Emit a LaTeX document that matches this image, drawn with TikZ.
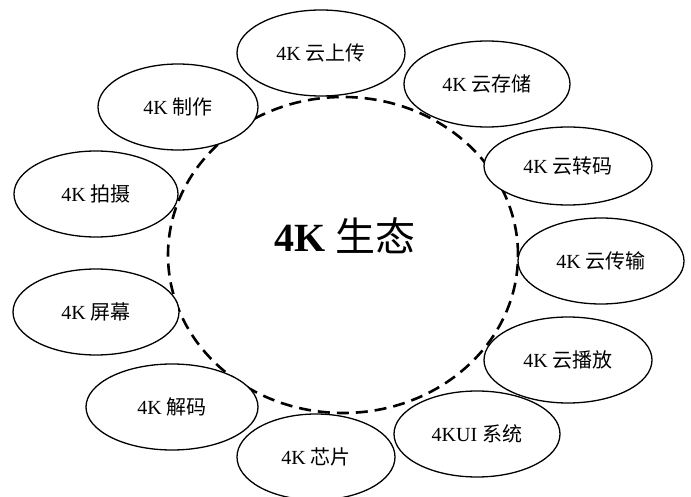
\documentclass[tikz,border=0pt]{standalone}
\usepackage{fontspec}
\setmainfont{Liberation Serif}
\newfontfamily\cjk{Noto Sans CJK SC}
\usetikzlibrary{shapes.geometric}
\begin{document}
\begin{tikzpicture}[x=1pt,y=-1pt,
  item/.style={ellipse, draw=black, line width=1.3pt, fill=white, inner sep=0pt,
    font=\fontsize{20}{24}\selectfont},
  ring/.style={ellipse, draw=black, line width=2.6pt, dash pattern=on 12pt off 7pt,
    inner sep=0pt, minimum width=350pt, minimum height=316pt}]
\useasboundingbox (0,0) rectangle (691,497);
\fill[white] (0,0) rectangle (691,497);
\node[ring] (eco) at (343,255) {};
\node[font=\fontsize{40}{48}\selectfont] (title) at (345,236) {\textbf{4K} {\cjk 生态}};
\node[item, minimum width=168pt, minimum height=86pt] (upload) at (321,53) {4K {\cjk 云上传}};
\node[item, minimum width=166pt, minimum height=86pt] (store) at (487,84) {4K {\cjk 云存储}};
\node[item, minimum width=160pt, minimum height=86pt] (make) at (178,107) {4K {\cjk 制作}};
\node[item, minimum width=164pt, minimum height=86pt] (shoot) at (96,194) {4K {\cjk 拍摄}};
\node[item, minimum width=168pt, minimum height=78pt] (trans) at (568,166) {4K {\cjk 云转码}};
\node[item, minimum width=166pt, minimum height=86pt] (carry) at (601,261) {4K {\cjk 云传输}};
\node[item, minimum width=166pt, minimum height=86pt] (screen) at (96,312) {4K {\cjk 屏幕}};
\node[item, minimum width=168pt, minimum height=86pt] (play) at (568,360) {4K {\cjk 云播放}};
\node[item, minimum width=172pt, minimum height=86pt] (decode) at (172,407) {4K {\cjk 解码}};
\node[item, minimum width=166pt, minimum height=86pt] (uisys) at (477,434) {4KUI {\cjk 系统}};
\node[item, minimum width=158pt, minimum height=86pt] (chip) at (316,457) {4K {\cjk 芯片}};
\end{tikzpicture}
\end{document}
